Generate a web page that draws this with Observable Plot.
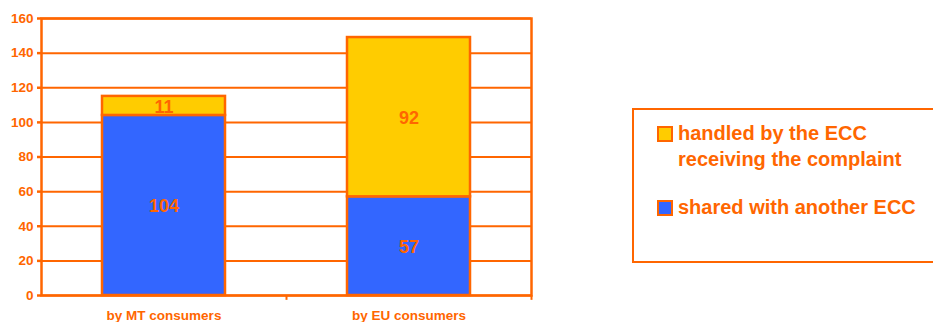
<!DOCTYPE html>
<html>
<head>
<meta charset="utf-8">
<script src="https://cdn.jsdelivr.net/npm/d3@7"></script>
<script src="https://cdn.jsdelivr.net/npm/@observablehq/plot@0.6"></script>
<style>
  html, body { margin: 0; padding: 0; background: #fff; }
  #wrap { position: relative; width: 933px; height: 322px; overflow: hidden; font-family: "Liberation Sans", Arial, sans-serif; }
  #legend { position: absolute; left: 632px; top: 108px; width: 320px; height: 151px; border: 2.5px solid #FF6600; box-sizing: content-box; }
  .item { position: absolute; left: 44px; color: #FF6600; font-weight: bold; font-size: 20px; line-height: 26px; }
  .sw { position: absolute; left: 23px; width: 12px; height: 12px; border: 2px solid #FF6600; }
</style>
</head>
<body>
<div id="wrap"></div>
<script>
const categories = ["by MT consumers", "by EU consumers"];
const seriesNames = ["shared with another ECC", "handled by the ECC receiving the complaint"];
const sharedValues = [104, 57];
const handledValues = [11, 92];
const yTicks = [0, 20, 40, 60, 80, 100, 120, 140, 160];
const colors = ["#3366FF", "#FFCC00"];
const orange = "#FF6600";

const data = [];
categories.forEach((c, i) => {
  data.push({cat: c, series: seriesNames[0], value: sharedValues[i]});
  data.push({cat: c, series: seriesNames[1], value: handledValues[i]});
});

const W = 933, H = 322, mL = 41, mR = 402, mT = 18, mB = 27;
const step = (W - mL - mR) / categories.length;

const chart = Plot.plot({
  width: W, height: H,
  marginLeft: mL, marginRight: mR, marginTop: mT, marginBottom: mB,
  style: {fontFamily: "'Liberation Sans', Arial, sans-serif", fontWeight: "bold", color: orange, background: "white", overflow: "visible"},
  x: {domain: categories, paddingInner: 0.5, paddingOuter: 0.25, label: null},
  y: {domain: [0, 160], label: null},
  color: {domain: seriesNames, range: colors},
  marks: [
    Plot.gridY(yTicks, {stroke: orange, strokeOpacity: 1, strokeWidth: 2}),
    Plot.barY(data, Plot.stackY({x: "cat", y: "value", fill: "series", stroke: orange, strokeWidth: 2.5, order: seriesNames})),
    Plot.text(data, Plot.stackY({x: "cat", y: "value", z: "series", text: "value", order: seriesNames, fill: orange, fontSize: 18, fontWeight: "bold", dy: 1})),
    Plot.frame({stroke: orange, strokeWidth: 2.5}),
    Plot.axisY({ticks: yTicks, tickSize: 4, tickPadding: 4, stroke: orange, strokeWidth: 2.5, fontSize: 13.5, fill: orange}),
    Plot.axisX({tickSize: 0, tickPadding: 15, fontSize: 13.5, fill: orange}),
    Plot.ruleX(categories, {x: d => d, dx: step / 2, y1: 0, y2: -2.8, stroke: orange, strokeWidth: 2})
  ]
});

const wrap = document.getElementById("wrap");
wrap.appendChild(chart);

const legend = document.createElement("div");
legend.id = "legend";
const legendItems = [
  {name: "handled by the ECC<br>receiving the complaint", color: colors[1], top: 10, swTop: 16},
  {name: "shared with another ECC", color: colors[0], top: 84, swTop: 90}
];
legendItems.forEach(it => {
  const sw = document.createElement("div");
  sw.className = "sw";
  sw.style.top = it.swTop + "px";
  sw.style.background = it.color;
  legend.appendChild(sw);
  const t = document.createElement("div");
  t.className = "item";
  t.style.top = it.top + "px";
  t.innerHTML = it.name;
  legend.appendChild(t);
});
wrap.appendChild(legend);
</script>
</body>
</html>
